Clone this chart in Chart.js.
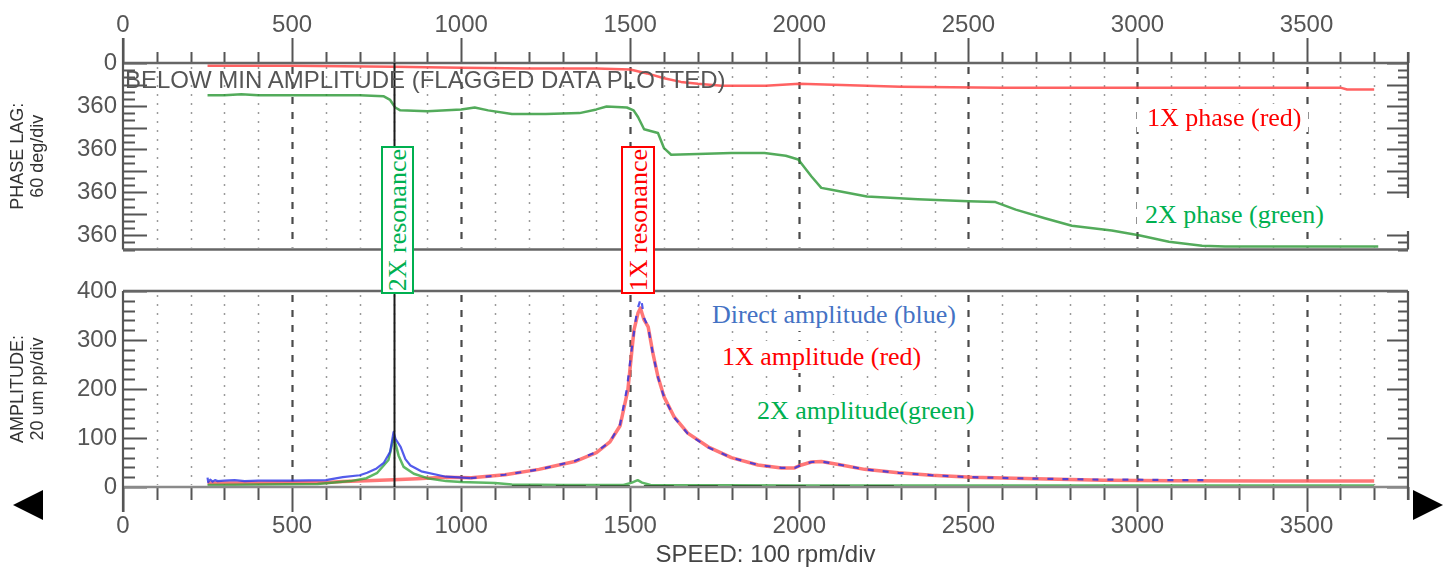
<!DOCTYPE html>
<html>
<head>
<meta charset="utf-8">
<title>Startup Bode plot</title>
<script src="https://cdn.jsdelivr.net/npm/chart.js@4.4.1/dist/chart.umd.min.js"></script>
<style>
  html, body { margin:0; padding:0; background:#fff; }
  #stage { position:relative; width:1450px; height:576px; overflow:hidden; background:#fff; }
  #stage canvas { position:absolute; left:0; }
  .note { position:absolute; white-space:nowrap; background:#fff; font-family:'Liberation Serif','Times New Roman',serif; font-size:26px; }
  .res { position:absolute; box-sizing:border-box; background:#fff; border:2px solid; display:flex; align-items:center; justify-content:center; overflow:hidden; }
  .res span { writing-mode:vertical-rl; transform:rotate(180deg); font-family:'Liberation Serif','Times New Roman',serif; font-size:26px; line-height:29px; white-space:nowrap; }
  .flag { position:absolute; left:125px; top:68px; font-family:'Liberation Sans',Arial,sans-serif; font-size:24px; line-height:24px; color:#555; white-space:nowrap; }
  .arrow { position:absolute; width:0; height:0; border-top:15px solid transparent; border-bottom:15px solid transparent; }
</style>
</head>
<body>
<div id="stage">
  <canvas id="phaseCanvas" width="1450" height="270" style="top:0px"></canvas>
  <canvas id="ampCanvas" width="1450" height="306" style="top:270px"></canvas>

  <div class="flag">BELOW MIN AMPLITUDE (FLAGGED DATA PLOTTED)</div>

  <div class="note" style="left:1137px;top:104px;line-height:28px;padding:0 6px 0 10px;color:#ff0000;">1X phase (red)</div>
  <div class="note" style="left:1137px;top:198px;width:295px;line-height:33px;padding-left:8px;color:#00b050;">2X phase (green)</div>
  <div class="note" style="left:706px;top:299px;line-height:32px;padding:0 4px 0 6px;color:#4472c4;">Direct amplitude (blue)</div>
  <div class="note" style="left:716px;top:341px;line-height:32px;padding:0 4px 0 6px;color:#ff0000;">1X amplitude (red)</div>
  <div class="note" style="left:751px;top:395px;line-height:32px;padding:0 4px 0 6px;color:#00b050;">2X amplitude(green)</div>

  <div class="res" style="left:381px;top:146px;width:33px;height:148px;border-color:#00b050;"><span style="color:#00b050;">2X resonance</span></div>
  <div class="res" style="left:621px;top:146px;width:34px;height:148px;border-color:#ff0000;"><span style="color:#ff0000;">1X resonance</span></div>

  <div class="arrow" style="left:13px;top:490px;border-right:30px solid #000;"></div>
  <div class="arrow" style="left:1413px;top:490px;border-left:30px solid #000;"></div>
</div>

<script>
// ---------- tick labels ----------
const speedTickValues = [0, 500, 1000, 1500, 2000, 2500, 3000, 3500];
const speedTickLabels = ['0', '500', '1000', '1500', '2000', '2500', '3000', '3500'];
const phaseTickValues = [0, 360, 720, 1080, 1440];
const phaseTickLabels = ['0', '360', '360', '360', '360'];
const ampTickValues = [0, 100, 200, 300, 400];
const ampTickLabels = ['0', '100', '200', '300', '400'];
const resonanceCursorRpm = 800;

// ---------- phase lag (deg) ----------
const phase1xRpm = [250, 500, 800, 1000, 1200, 1400, 1500, 1550, 1600, 1650, 1700, 1770, 1900, 2000, 2100, 2300, 2600, 3000, 3600, 3620, 3700];
const phase1xDeg = [24, 24, 32, 40, 47, 47, 55, 87, 127, 158, 174, 190, 190, 174, 182, 198, 206, 206, 206, 222, 222];

const phase2xRpm = [250, 300, 350, 400, 500, 600, 700, 770, 790, 805, 820, 900, 1000, 1040, 1080, 1150, 1250, 1350, 1400, 1430, 1490, 1510, 1523, 1541, 1582, 1600, 1621, 1700, 1799, 1897, 1960, 1997, 2036, 2065, 2095, 2200, 2350, 2500, 2580, 2640, 2726, 2806, 2924, 3004, 3093, 3191, 3259, 3712];
const phase2xDeg = [269, 269, 261, 269, 269, 269, 269, 277, 309, 372, 396, 404, 388, 372, 396, 427, 427, 419, 388, 364, 372, 396, 451, 554, 585, 712, 767, 760, 752, 752, 775, 807, 949, 1044, 1060, 1116, 1139, 1155, 1163, 1226, 1298, 1361, 1400, 1440, 1495, 1527, 1535, 1535];

// ---------- amplitude (um pp) ----------
const amp1xRpm = [250, 400, 600, 650, 720, 800, 870, 950, 1030, 1130, 1230, 1336, 1400, 1440, 1470, 1493, 1502, 1511, 1523, 1530, 1541, 1553, 1567, 1582, 1600, 1630, 1670, 1730, 1799, 1878, 1947, 1986, 2006, 2036, 2065, 2116, 2193, 2293, 2391, 2510, 2700, 2900, 3100, 3400, 3700];
const amp1x = [8, 8, 9, 11, 13, 15, 17, 20, 19, 25, 36, 52, 70, 92, 125, 198, 259, 320, 355, 365, 341, 327, 273, 225, 184, 143, 110, 82, 60, 45, 39, 39, 45, 51, 52, 46, 36, 29, 24, 20, 17, 14, 13, 12, 12];

const ampDirectRpm = [250, 252, 258, 265, 272, 280, 300, 330, 360, 400, 500, 600, 650, 700, 722, 750, 771, 790, 800, 806, 821, 835, 850, 882, 955, 1028, 1129, 1233, 1336, 1398, 1440, 1470, 1490, 1505, 1520, 1532, 1541, 1553, 1567, 1582, 1600, 1630, 1670, 1730, 1799, 1878, 1947, 1986, 2006, 2036, 2065, 2116, 2193, 2293, 2391, 2510, 2700, 2900, 3000, 3100, 3210];
const ampDirect = [19, 10, 15, 11, 14, 12, 13, 14, 12, 13, 13, 14, 20, 24, 29, 38, 49, 72, 112, 98, 82, 57, 44, 32, 21, 18, 25, 36, 53, 71, 92, 128, 200, 285, 360, 386, 345, 326, 272, 224, 183, 142, 109, 81, 60, 45, 39, 39, 45, 51, 52, 46, 36, 29, 24, 20, 17, 15, 15, 14, 14];

const amp2xRpm = [250, 400, 575, 673, 720, 752, 785, 800, 806, 815, 830, 860, 900, 955, 1000, 1100, 1150, 1300, 1480, 1505, 1522, 1535, 1560, 2000, 3000, 3700];
const amp2x = [4, 5, 6, 12, 18, 29, 55, 100, 88, 64, 41, 27, 18, 12, 10, 8, 5, 4, 4, 9, 14, 9, 4, 3, 3, 3];

const ampLowRpm = [1150, 2300];
const ampLow = [1.5, 1.5];

// ---------- helpers ----------
const pts = (xs, ys) => xs.map((x, i) => ({ x: x, y: ys[i] }));
const SANS = "'Liberation Sans', Arial, Helvetica, sans-serif";
Chart.defaults.font.family = SANS;
Chart.defaults.color = '#555';

const SPEED_MIN = 0, SPEED_MAX = 3800, MINOR_RPM = 100, MAJOR_RPM = 500;
const OVERLAP_FROM_RPM = 1000; // where the direct trace sits on the 1X trace

function framePlugin(cfg) {
  return {
    id: 'frame',
    beforeDatasetsDraw(chart) {
      const { ctx, chartArea: a } = chart;
      const xs = chart.scales.x;
      ctx.save();
      for (let v = MINOR_RPM; v < SPEED_MAX; v += MINOR_RPM) {
        const px = Math.round(xs.getPixelForValue(v)) + 0.5;
        const major = v % MAJOR_RPM === 0;
        ctx.beginPath();
        ctx.setLineDash(major ? [7, 8] : [2, 7]);
        ctx.strokeStyle = major ? '#4a4a4a' : '#9a9a9a';
        ctx.lineWidth = major ? 2.2 : 1.5;
        ctx.moveTo(px, a.top + 4);
        ctx.lineTo(px, a.bottom - 2);
        ctx.stroke();
      }
      ctx.restore();
    },
    afterDatasetsDraw(chart) {
      const { ctx, chartArea: a } = chart;
      const xs = chart.scales.x;
      const ys = chart.scales[cfg.yId];
      ctx.save();
      ctx.setLineDash([]);
      ctx.strokeStyle = '#555';
      ctx.lineWidth = 2;
      for (let v = SPEED_MIN; v <= SPEED_MAX; v += MINOR_RPM) {
        const px = Math.round(xs.getPixelForValue(v)) + 0.5;
        const len = v % MAJOR_RPM === 0 ? 25 : (cfg.top ? 11 : 13);
        ctx.beginPath();
        if (cfg.top) { ctx.moveTo(px, a.top); ctx.lineTo(px, a.top - len); }
        else { ctx.moveTo(px, a.bottom); ctx.lineTo(px, a.bottom + len); }
        ctx.stroke();
      }
      ctx.lineWidth = 2;
      for (let v = cfg.yMin; v <= cfg.yMax; v += cfg.minorStep) {
        const py = Math.round(ys.getPixelForValue(v)) + 0.5;
        const long = v % cfg.longStep === 0;
        ctx.beginPath();
        ctx.moveTo(a.left, py); ctx.lineTo(a.left + (long ? 24 : 12), py);
        ctx.moveTo(a.right, py); ctx.lineTo(a.right - (long ? 21 : 10), py);
        ctx.stroke();
      }
      ctx.strokeStyle = '#666';
      ctx.lineWidth = 2.5;
      ctx.beginPath();
      ctx.moveTo(a.left, a.top); ctx.lineTo(a.right, a.top);
      ctx.stroke();
      ctx.strokeStyle = cfg.top ? '#666' : '#8a8a8a';
      ctx.beginPath();
      ctx.moveTo(a.left, a.bottom); ctx.lineTo(a.right, a.bottom);
      ctx.stroke();
      ctx.strokeStyle = '#555';
      ctx.lineWidth = 2.2;
      ctx.beginPath();
      if (cfg.top) {
        ctx.moveTo(a.left, a.top - 25); ctx.lineTo(a.left, a.bottom);
        ctx.moveTo(a.right, a.top - 11); ctx.lineTo(a.right, a.bottom);
      } else {
        ctx.moveTo(a.left, a.top); ctx.lineTo(a.left, a.bottom + 25);
        ctx.moveTo(a.right, a.top); ctx.lineTo(a.right, a.bottom + 13);
      }
      ctx.stroke();
      const cx = Math.round(xs.getPixelForValue(resonanceCursorRpm)) + 0.5;
      ctx.strokeStyle = '#1a1a1a';
      ctx.lineWidth = 2;
      ctx.beginPath();
      ctx.moveTo(cx, a.top); ctx.lineTo(cx, a.bottom);
      ctx.stroke();
      ctx.restore();
    }
  };
}

function speedAxis(position, extra) {
  return Object.assign({
    type: 'linear', position: position, min: SPEED_MIN, max: SPEED_MAX,
    afterBuildTicks: s => { s.ticks = speedTickValues.map(v => ({ value: v })); },
    ticks: { font: { size: 24 }, color: '#555', maxRotation: 0, autoSkip: false,
             callback: (v, i) => speedTickLabels[i] },
    grid: { display: false, drawTicks: false },
    border: { display: false }
  }, extra);
}

const common = {
  responsive: false,
  animation: false,
  plugins: { legend: { display: false }, tooltip: { enabled: false } },
  elements: { point: { radius: 0 }, line: { tension: 0, borderJoinStyle: 'round', borderCapStyle: 'butt' } }
};

// ---------- phase chart ----------
const phaseX = speedAxis('top', { afterFit: s => { s.height = 63; } });
phaseX.ticks.padding = 23;

new Chart(document.getElementById('phaseCanvas'), {
  type: 'line',
  data: {
    datasets: [
      { label: '1X phase (red)', data: pts(phase1xRpm, phase1xDeg), borderColor: 'rgba(255,70,70,0.85)', borderWidth: 2.5, yAxisID: 'yP' },
      { label: '2X phase (green)', data: pts(phase2xRpm, phase2xDeg), borderColor: 'rgba(40,150,50,0.8)', borderWidth: 2.5, yAxisID: 'yP' }
    ]
  },
  options: Object.assign({}, common, {
    layout: { padding: { left: 0, right: 42, top: 0, bottom: 10 } },
    scales: {
      x: phaseX,
      yP: {
        type: 'linear', position: 'left', min: 0, max: 1560, reverse: true,
        afterBuildTicks: s => { s.ticks = phaseTickValues.map(v => ({ value: v })); },
        afterFit: s => { s.width = 123; },
        ticks: { font: { size: 24 }, color: '#555', padding: 6, autoSkip: false, callback: (v, i) => phaseTickLabels[i] },
        grid: { display: false, drawTicks: false },
        border: { display: false },
        title: { display: true, text: ['PHASE LAG:', '60 deg/div'], color: '#333',
                 font: { size: 18, lineHeight: 1.111 }, padding: { top: 8, bottom: 0 } }
      }
    }
  }),
  plugins: [framePlugin({ top: true, yId: 'yP', yMin: 0, yMax: 1560, minorStep: 60, longStep: 180 })]
});

// ---------- amplitude chart ----------
const ampX = speedAxis('bottom', {
  afterFit: s => { s.height = 89; },
  title: { display: true, text: 'SPEED: 100 rpm/div', color: '#444', font: { size: 24 }, padding: { top: 0, bottom: 6 } }
});
ampX.ticks.padding = 25;

new Chart(document.getElementById('ampCanvas'), {
  type: 'line',
  data: {
    datasets: [
      { label: '2X low level', data: pts(ampLowRpm, ampLow), borderColor: 'rgba(20,70,20,0.9)', borderWidth: 2.5, borderDash: [30, 14], yAxisID: 'yA' },
      { label: 'Direct amplitude (blue)', data: pts(ampDirectRpm, ampDirect), borderColor: 'rgba(40,50,230,0.8)', borderWidth: 2.2, yAxisID: 'yA',
        segment: { borderDash: c => (c.p0.parsed.x >= OVERLAP_FROM_RPM ? [6, 9] : undefined) } },
      { label: '2X amplitude (green)', data: pts(amp2xRpm, amp2x), borderColor: 'rgba(40,160,50,0.75)', borderWidth: 2.5, yAxisID: 'yA' },
      { label: '1X amplitude (red)', data: pts(amp1xRpm, amp1x), borderColor: 'rgba(255,95,95,0.85)', borderWidth: 3.5, yAxisID: 'yA' }
    ]
  },
  options: Object.assign({}, common, {
    layout: { padding: { left: 0, right: 42, top: 21, bottom: 0 } },
    scales: {
      x: ampX,
      yA: {
        type: 'linear', position: 'left', min: 0, max: 400,
        afterBuildTicks: s => { s.ticks = ampTickValues.map(v => ({ value: v })); },
        afterFit: s => { s.width = 123; },
        ticks: { font: { size: 24 }, color: '#555', padding: 6, autoSkip: false, callback: (v, i) => ampTickLabels[i] },
        grid: { display: false, drawTicks: false },
        border: { display: false },
        title: { display: true, text: ['AMPLITUDE:', '20 um pp/div'], color: '#333',
                 font: { size: 18, lineHeight: 1.111 }, padding: { top: 8, bottom: 0 } }
      }
    }
  }),
  plugins: [framePlugin({ top: false, yId: 'yA', yMin: 0, yMax: 400, minorStep: 20, longStep: 100 })]
});
</script>
</body>
</html>
